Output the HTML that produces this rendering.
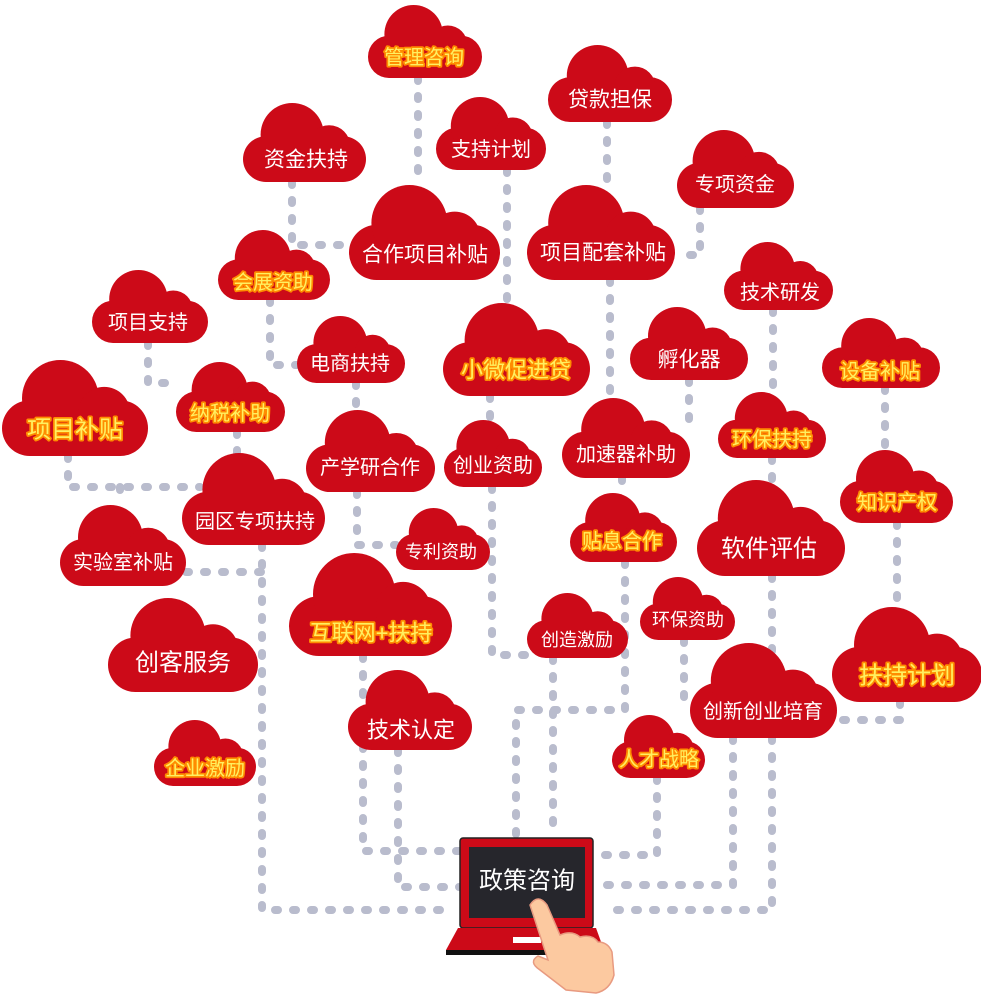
<!DOCTYPE html>
<html><head><meta charset="utf-8"><style>
html,body{margin:0;padding:0;background:#fff}
svg{display:block}
text{font-family:"Liberation Sans","Noto Sans CJK SC",sans-serif;text-anchor:middle;dominant-baseline:central}
.w{fill:#fff}
.y{fill:#fff060;stroke:#ff8c00;stroke-width:3.5;paint-order:stroke;stroke-linejoin:round}
.c{fill:#cc0a18}
.l{fill:none;stroke:#b9bccd;stroke-width:8;stroke-linecap:round;stroke-dasharray:3 15;stroke-linejoin:round}
</style></head><body>
<svg width="981" height="997" viewBox="0 0 981 997" xmlns="http://www.w3.org/2000/svg">
<g class="l">
<path d="M418 78V185"/><path d="M607 122V185"/><path d="M507 170V310"/>
<path d="M292 182V245H350"/><path d="M700 208V255H675"/><path d="M610 280V398"/>
<path d="M270 300V365H297"/><path d="M773 310V392"/><path d="M148 343V383H176"/>
<path d="M356 383V410"/><path d="M490 396V420"/><path d="M689 380V425"/>
<path d="M885 388V450"/><path d="M68 456V487H200"/><path d="M120 487V505"/>
<path d="M237 432V453"/><path d="M772 458V480"/><path d="M357 492V545H396"/>
<path d="M492 487V655H530"/><path d="M622 478V493"/><path d="M897 523V607"/>
<path d="M262 545V910H450"/><path d="M186 572H262"/><path d="M772 576V910H602"/>
<path d="M625 562V710H516V835"/><path d="M553 658V835"/><path d="M684 640V700"/>
<path d="M900 702V720H837"/><path d="M363 656V851H460"/><path d="M398 750V887H460"/>
<path d="M733 738V885H602"/><path d="M657 778V855H602"/>
</g>
<g class="c">
<rect x="368" y="35.7" width="114" height="42.3" rx="21"/><circle cx="413.6" cy="34.2" r="29.2"/><circle cx="447.8" cy="45.2" r="19.7"/>
<rect x="548" y="77.3" width="124" height="44.7" rx="22"/><circle cx="597.6" cy="75.8" r="30.8"/><circle cx="634.8" cy="87.4" r="20.8"/>
<rect x="436" y="127.7" width="110" height="42.3" rx="21"/><circle cx="480" cy="126.2" r="29.2"/><circle cx="513" cy="137.2" r="19.7"/>
<rect x="243" y="136.2" width="123" height="45.8" rx="23"/><circle cx="292.2" cy="134.6" r="31.6"/><circle cx="329.1" cy="146.5" r="21.3"/>
<rect x="677" y="162.8" width="117" height="45.2" rx="22.6"/><circle cx="723.8" cy="161.2" r="31.2"/><circle cx="758.9" cy="172.9" r="21"/>
<rect x="349" y="224.9" width="151" height="55.1" rx="27.5"/><circle cx="409.4" cy="223" r="38"/><circle cx="454.7" cy="237.3" r="25.7"/>
<rect x="527" y="224.9" width="148" height="55.1" rx="27.5"/><circle cx="586.2" cy="223" r="38"/><circle cx="630.6" cy="237.3" r="25.7"/>
<rect x="218" y="259.4" width="112" height="40.6" rx="20.3"/><circle cx="262.8" cy="258" r="28"/><circle cx="296.4" cy="268.5" r="18.9"/>
<rect x="724" y="270.6" width="109" height="39.4" rx="19.7"/><circle cx="767.6" cy="269.2" r="27.2"/><circle cx="800.3" cy="279.4" r="18.4"/>
<rect x="92" y="300.7" width="116" height="42.3" rx="21"/><circle cx="138.4" cy="299.2" r="29.2"/><circle cx="173.2" cy="310.2" r="19.7"/>
<rect x="297" y="344.1" width="108" height="38.9" rx="19.4"/><circle cx="340.2" cy="342.8" r="26.8"/><circle cx="372.6" cy="352.9" r="18.1"/>
<rect x="443" y="342.1" width="147" height="53.9" rx="27"/><circle cx="501.8" cy="340.2" r="37.2"/><circle cx="545.9" cy="354.2" r="25.1"/>
<rect x="630" y="337.7" width="118" height="42.3" rx="21"/><circle cx="677.2" cy="336.2" r="29.2"/><circle cx="712.6" cy="347.2" r="19.7"/>
<rect x="822" y="347.4" width="118" height="40.6" rx="20.3"/><circle cx="869.2" cy="346" r="28"/><circle cx="904.6" cy="356.5" r="18.9"/>
<rect x="2" y="400.3" width="146" height="55.7" rx="27.8"/><circle cx="60.4" cy="398.4" r="38.4"/><circle cx="104.2" cy="412.8" r="25.9"/>
<rect x="176" y="391.4" width="109" height="40.6" rx="20.3"/><circle cx="219.6" cy="390" r="28"/><circle cx="252.3" cy="400.5" r="18.9"/>
<rect x="718" y="419.7" width="108" height="38.3" rx="19"/><circle cx="761.2" cy="418.4" r="26.4"/><circle cx="793.6" cy="428.3" r="17.8"/>
<rect x="306" y="444.4" width="129" height="47.6" rx="23.8"/><circle cx="357.6" cy="442.8" r="32.8"/><circle cx="396.3" cy="455.1" r="22.1"/>
<rect x="444" y="448.1" width="98" height="38.9" rx="19.4"/><circle cx="483.2" cy="446.8" r="26.8"/><circle cx="512.6" cy="456.9" r="18.1"/>
<rect x="562" y="431.6" width="128" height="46.4" rx="23.2"/><circle cx="613.2" cy="430" r="32"/><circle cx="651.6" cy="442" r="21.6"/>
<rect x="840" y="480.7" width="113" height="42.3" rx="21"/><circle cx="885.2" cy="479.2" r="29.2"/><circle cx="919.1" cy="490.2" r="19.7"/>
<rect x="182" y="491.6" width="143" height="53.4" rx="26.7"/><circle cx="239.2" cy="489.8" r="36.8"/><circle cx="282.1" cy="503.6" r="24.8"/>
<rect x="60" y="539" width="126" height="47" rx="23.5"/><circle cx="110.4" cy="537.4" r="32.4"/><circle cx="148.2" cy="549.6" r="21.9"/>
<rect x="396" y="534" width="94" height="36" rx="18"/><circle cx="433.6" cy="532.8" r="24.8"/><circle cx="461.8" cy="542.1" r="16.7"/>
<rect x="570" y="522" width="107" height="40" rx="20"/><circle cx="612.8" cy="520.6" r="27.6"/><circle cx="644.9" cy="531" r="18.6"/>
<rect x="697" y="520.3" width="148" height="55.7" rx="27.8"/><circle cx="756.2" cy="518.4" r="38.4"/><circle cx="800.6" cy="532.8" r="25.9"/>
<rect x="289" y="596.3" width="163" height="59.7" rx="29.9"/><circle cx="354.2" cy="594.2" r="41.2"/><circle cx="403.1" cy="609.7" r="27.8"/>
<rect x="108" y="637.5" width="150" height="54.5" rx="27.3"/><circle cx="168" cy="635.6" r="37.6"/><circle cx="213" cy="649.7" r="25.4"/>
<rect x="527" y="620.3" width="101" height="37.7" rx="18.9"/><circle cx="567.4" cy="619" r="26"/><circle cx="597.7" cy="628.8" r="17.6"/>
<rect x="640" y="603.5" width="95" height="36.5" rx="18.3"/><circle cx="678" cy="602.2" r="25.2"/><circle cx="706.5" cy="611.7" r="17"/>
<rect x="832" y="646.9" width="150" height="55.1" rx="27.5"/><circle cx="892" cy="645" r="38"/><circle cx="937" cy="659.3" r="25.7"/>
<rect x="348" y="703.6" width="124" height="46.4" rx="23.2"/><circle cx="397.6" cy="702" r="32"/><circle cx="434.8" cy="714" r="21.6"/>
<rect x="690" y="682.9" width="147" height="55.1" rx="27.5"/><circle cx="748.8" cy="681" r="38"/><circle cx="792.9" cy="695.3" r="25.7"/>
<rect x="154" y="747.7" width="102" height="38.3" rx="19"/><circle cx="194.8" cy="746.4" r="26.4"/><circle cx="225.4" cy="756.3" r="17.8"/>
<rect x="612" y="741.5" width="93" height="36.5" rx="18.3"/><circle cx="649.2" cy="740.2" r="25.2"/><circle cx="677.1" cy="749.7" r="17"/>
</g>
<g font-size="20">
<text class="y" x="424" y="58">管理咨询</text>
<text class="w" x="610" y="100" font-size="21">贷款担保</text>
<text class="w" x="491" y="150">支持计划</text>
<text class="w" x="306" y="160" font-size="21">资金扶持</text>
<text class="w" x="735" y="185">专项资金</text>
<text class="w" x="425" y="255" font-size="21">合作项目补贴</text>
<text class="w" x="603" y="253" font-size="21">项目配套补贴</text>
<text class="y" x="273" y="283">会展资助</text>
<text class="w" x="780" y="293">技术研发</text>
<text class="w" x="148" y="323">项目支持</text>
<text class="w" x="350" y="364">电商扶持</text>
<text class="y" x="516" y="370" font-size="22">小微促进贷</text>
<text class="w" x="689" y="360" font-size="21">孵化器</text>
<text class="y" x="880" y="372">设备补贴</text>
<text class="y" x="75" y="430" font-size="24">项目补贴</text>
<text class="y" x="230" y="414">纳税补助</text>
<text class="y" x="772" y="440">环保扶持</text>
<text class="w" x="370" y="468">产学研合作</text>
<text class="w" x="493" y="466">创业资助</text>
<text class="w" x="626" y="455">加速器补助</text>
<text class="y" x="897" y="503">知识产权</text>
<text class="w" x="255" y="522">园区专项扶持</text>
<text class="w" x="123" y="563">实验室补贴</text>
<text class="w" x="441" y="552" font-size="18">专利资助</text>
<text class="y" x="622" y="542">贴息合作</text>
<text class="w" x="769" y="549" font-size="24">软件评估</text>
<text class="y" x="371" y="633" font-size="22">互联网+扶持</text>
<text class="w" x="183" y="663" font-size="24">创客服务</text>
<text class="w" x="577" y="640" font-size="18">创造激励</text>
<text class="w" x="688" y="620" font-size="18">环保资助</text>
<text class="y" x="907" y="676" font-size="24">扶持计划</text>
<text class="w" x="411" y="730" font-size="22">技术认定</text>
<text class="w" x="763" y="712">创新创业培育</text>
<text class="y" x="205" y="769">企业激励</text>
<text class="y" x="659" y="760">人才战略</text>
</g>
<rect x="460" y="838" width="133" height="90" rx="3" fill="#cc0a18" stroke="#222" stroke-width="1.5"/>
<rect x="469" y="847" width="116" height="71" fill="#26262c"/>
<text x="527" y="881" class="w" font-size="24">政策咨询</text>
<path d="M458 928H596L604 950H446Z" fill="#cc0a18"/>
<rect x="446" y="950" width="158" height="5" fill="#111"/>
<rect x="513" y="937" width="28" height="6" fill="#fff"/>
<path d="M530 905Q538 893 547 905L560 935Q572 930 580 937Q592 934 598 942Q608 942 612 952L614 975Q610 990 596 993L566 990L540 970Q528 962 538 956L548 960Z" fill="#fcc9a0" stroke="#e89a80" stroke-width="1.5"/>
</svg>
</body></html>
